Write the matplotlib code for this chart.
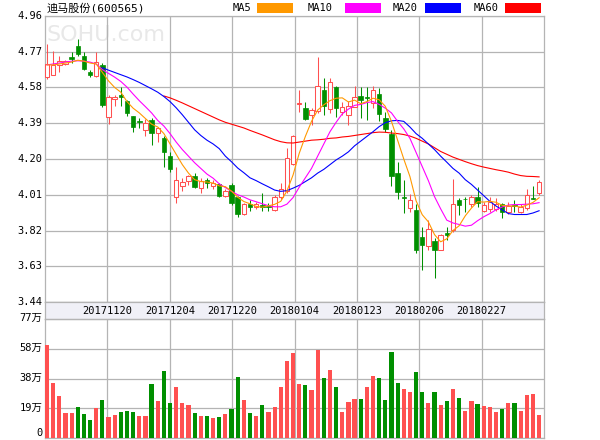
import numpy as np
import matplotlib
matplotlib.use('Agg')
import matplotlib.pyplot as plt
import matplotlib.transforms as mtransforms
from matplotlib.patches import Rectangle

title = '迪马股份(600565)'
date_labels = ['20171120', '20171204', '20171220', '20180104', '20180123', '20180206', '20180227']
price_ticks = [3.44, 3.63, 3.82, 4.01, 4.20, 4.39, 4.58, 4.77, 4.96]
vol_ticks = [0, 19.25, 38.5, 57.75, 77]
vol_tick_labels = ['0', '19万', '38万', '58万', '77万']
ma_names = ['MA5', 'MA10', 'MA20', 'MA60']

# daily candles
opens = [4.635, 4.647, 4.700, 4.703, 4.740, 4.800, 4.749, 4.660, 4.641, 4.700,
         4.425, 4.517, 4.540, 4.508, 4.429, 4.400, 4.354, 4.407, 4.336, 4.310,
         4.216, 4.000, 4.056, 4.084, 4.111, 4.044, 4.088, 4.057, 4.066, 4.005,
         4.063, 3.996, 3.908, 3.960, 3.943, 3.954, 3.948, 3.928, 4.000, 4.031,
         4.172, 4.490, 4.471, 4.432, 4.453, 4.568, 4.467, 4.580, 4.448, 4.436,
         4.476, 4.533, 4.530, 4.497, 4.545, 4.420, 4.332, 4.124, 4.000, 3.941,
         3.931, 3.787, 3.739, 3.766, 3.716, 3.808, 3.822, 3.984, 3.990, 3.963,
         4.000, 3.922, 3.936, 3.936, 3.963, 3.919, 3.955, 3.919, 3.941, 3.995,
         4.019]
highs = [4.810, 4.775, 4.745, 4.725, 4.770, 4.840, 4.770, 4.673, 4.770, 4.709,
         4.540, 4.540, 4.585, 4.513, 4.430, 4.416, 4.410, 4.416, 4.372, 4.320,
         4.239, 4.160, 4.097, 4.115, 4.124, 4.097, 4.097, 4.090, 4.075, 4.040,
         4.075, 4.005, 3.965, 3.982, 3.970, 4.020, 3.965, 4.010, 4.075, 4.256,
         4.330, 4.568, 4.501, 4.471, 4.744, 4.633, 4.633, 4.589, 4.501, 4.510,
         4.589, 4.580, 4.580, 4.590, 4.577, 4.450, 4.353, 4.182, 4.090, 4.015,
         3.963, 3.840, 3.875, 3.778, 3.804, 3.840, 4.095, 3.994, 3.998, 4.007,
         4.050, 3.971, 3.998, 3.994, 3.966, 3.971, 3.984, 3.963, 4.042, 4.054,
         4.086]
lows = [4.625, 4.645, 4.665, 4.700, 4.710, 4.745, 4.673, 4.637, 4.637, 4.478,
        4.386, 4.482, 4.482, 4.429, 4.346, 4.363, 4.322, 4.274, 4.292, 4.160,
        4.132, 3.964, 4.031, 4.062, 4.044, 4.021, 4.044, 4.040, 3.996, 3.996,
        3.957, 3.890, 3.905, 3.926, 3.934, 3.926, 3.924, 3.925, 3.990, 4.020,
        4.168, 4.450, 4.406, 4.383, 4.445, 4.436, 4.445, 4.422, 4.432, 4.383,
        4.474, 4.418, 4.406, 4.470, 4.400, 4.344, 4.059, 3.989, 3.913, 3.919,
        3.702, 3.610, 3.716, 3.567, 3.716, 3.769, 3.813, 3.901, 3.919, 3.945,
        3.945, 3.919, 3.919, 3.922, 3.884, 3.910, 3.919, 3.914, 3.927, 3.989,
        4.007]
closes = [4.705, 4.700, 4.720, 4.720, 4.730, 4.760, 4.680, 4.648, 4.717, 4.487,
          4.531, 4.527, 4.531, 4.443, 4.372, 4.395, 4.393, 4.340, 4.363, 4.239,
          4.145, 4.088, 4.076, 4.111, 4.049, 4.084, 4.070, 4.075, 4.005, 4.031,
          3.964, 3.908, 3.960, 3.947, 3.960, 3.943, 3.945, 3.998, 4.040, 4.207,
          4.321, 4.499, 4.413, 4.459, 4.589, 4.480, 4.608, 4.471, 4.476, 4.480,
          4.531, 4.513, 4.525, 4.568, 4.440, 4.362, 4.112, 4.024, 3.995, 3.984,
          3.716, 3.743, 3.830, 3.716, 3.795, 3.795, 3.963, 3.954, 3.985, 3.998,
          3.966, 3.954, 3.971, 3.959, 3.919, 3.949, 3.950, 3.945, 4.010, 3.990,
          4.077]

# volume in 万 and its colour (r = up, g = down)
volumes = [60.2, 35.9, 27.3, 16.3, 16.3, 20.2, 15.7, 11.8, 19.6, 24.7,
           13.8, 15.1, 17.0, 17.6, 17.0, 14.4, 14.4, 35.1, 24.1, 43.5,
           22.8, 33.1, 22.8, 21.5, 16.3, 14.4, 14.4, 13.1, 13.8, 15.7,
           18.9, 39.6, 24.7, 16.3, 14.4, 21.5, 17.0, 20.2, 33.1, 49.9,
           55.1, 35.1, 34.4, 31.2, 57.0, 38.9, 44.1, 33.1, 17.0, 23.4,
           25.4, 25.4, 33.1, 40.2, 38.9, 24.7, 55.7, 35.7, 31.8, 29.9,
           42.8, 29.9, 22.8, 29.9, 21.5, 24.1, 31.8, 26.0, 17.6, 24.1,
           22.2, 20.9, 20.2, 17.0, 18.9, 22.8, 22.8, 17.6, 28.0, 28.6,
           15.1]
vol_dir = list('rrrrrgggrg' 'rrgggrrgrg' 'grrrgrgrgr' 'ggrgrgrrrr'
               'rrgrrgrgrr' 'rgrrggggrr' 'ggrgrgrgrr' 'grrrgrgrrr' 'r')

ma5 = [4.700, 4.700, 4.705, 4.710, 4.715, 4.725, 4.720, 4.710, 4.705, 4.660,
       4.615, 4.580, 4.555, 4.505, 4.470, 4.445, 4.415, 4.385, 4.370, 4.335,
       4.280, 4.225, 4.170, 4.125, 4.090, 4.080, 4.078, 4.072, 4.057, 4.053,
       4.029, 3.997, 3.974, 3.962, 3.948, 3.944, 3.951, 3.959, 3.975, 4.030,
       4.115, 4.230, 4.320, 4.400, 4.460, 4.488, 4.510, 4.523, 4.525, 4.503,
       4.513, 4.494, 4.505, 4.523, 4.515, 4.480, 4.400, 4.300, 4.200, 4.107,
       3.978, 3.904, 3.866, 3.798, 3.760, 3.776, 3.820, 3.845, 3.898, 3.939,
       3.973, 3.971, 3.975, 3.970, 3.954, 3.950, 3.950, 3.944, 3.955, 3.969,
       3.994]
ma10 = [4.700, 4.705, 4.710, 4.715, 4.720, 4.722, 4.720, 4.715, 4.705, 4.675,
        4.655, 4.635, 4.612, 4.582, 4.545, 4.510, 4.478, 4.445, 4.405, 4.375,
        4.335, 4.290, 4.250, 4.215, 4.180, 4.150, 4.120, 4.098, 4.068, 4.048,
        4.028, 4.010, 3.998, 3.983, 3.973, 3.962, 3.952, 3.946, 3.946, 3.960,
        3.995, 4.050, 4.100, 4.150, 4.215, 4.280, 4.345, 4.395, 4.440, 4.465,
        4.485, 4.490, 4.500, 4.505, 4.490, 4.470, 4.445, 4.400, 4.360, 4.310,
        4.235, 4.160, 4.085, 4.000, 3.935, 3.875, 3.860, 3.852, 3.843, 3.848,
        3.872, 3.893, 3.910, 3.930, 3.945, 3.955, 3.958, 3.958, 3.960, 3.962,
        3.968]
ma20 = [None] * 9 + [
        4.685,
        4.672, 4.660, 4.648, 4.636, 4.622, 4.607, 4.590, 4.573, 4.555, 4.532,
        4.505, 4.472, 4.435, 4.395, 4.355, 4.325, 4.300, 4.280, 4.255, 4.215,
        4.185, 4.152, 4.127, 4.100, 4.085, 4.068, 4.052, 4.035, 4.028, 4.032,
        4.045, 4.060, 4.080, 4.100, 4.125, 4.145, 4.170, 4.195, 4.215, 4.238,
        4.270, 4.295, 4.320, 4.345, 4.372, 4.393, 4.403, 4.405, 4.400, 4.370,
        4.335, 4.310, 4.280, 4.250, 4.215, 4.183, 4.150, 4.125, 4.090, 4.065,
        4.035, 4.005, 3.975, 3.950, 3.930, 3.910, 3.905, 3.905, 3.905, 3.913,
        3.925]
ma60 = [None] * 19 + [
        4.535,
        4.525, 4.512, 4.498, 4.483, 4.468, 4.453, 4.438, 4.423, 4.408, 4.395,
        4.385, 4.375, 4.365, 4.352, 4.340, 4.328, 4.315, 4.302, 4.292, 4.286,
        4.285, 4.290, 4.295, 4.300, 4.302, 4.305, 4.310, 4.312, 4.317, 4.320,
        4.325, 4.330, 4.335, 4.340, 4.343, 4.342, 4.338, 4.335, 4.330, 4.322,
        4.310, 4.295, 4.280, 4.260, 4.240, 4.225, 4.210, 4.198, 4.186, 4.175,
        4.165, 4.157, 4.150, 4.143, 4.137, 4.130, 4.120, 4.112, 4.108, 4.107,
        4.105]

RED = '#ff5050'
GREEN = '#008f00'
GRID = '#b4b4b4'
MA_COLORS = ['#ff9900', '#ff00ff', '#0000ff', '#ff0000']
MONO = ['DejaVu Sans Mono', 'Noto Sans CJK SC']

o = np.array(opens)
h = np.array(highs)
l = np.array(lows)
c = np.array(closes)
x = np.arange(len(c))
xlim = (-0.33, 80.8)
xgrid = np.linspace(xlim[0], xlim[1], 9)[1:-1]

fig = plt.figure(figsize=(6, 4.4), dpi=100)
L, W = 45 / 600, 499 / 600
ax = fig.add_axes([L, 1 - 302 / 440, W, 286 / 440])
band = fig.add_axes([L, 1 - 319 / 440, W, 17 / 440])
axv = fig.add_axes([L, 1 - 438 / 440, W, 119 / 440])

for a in (ax, band, axv):
    a.set_xlim(*xlim)
    a.tick_params(length=0, labelbottom=False, labelleft=False)
    for s in a.spines.values():
        s.set_color(GRID)
        s.set_linewidth(0.9)

# price panel
ax.set_ylim(3.44, 4.96)
ax.set_xticks(xgrid)
ax.set_yticks(price_ticks)
ax.grid(color=GRID, lw=0.9, zorder=0)
ax.set_axisbelow(True)
ax.text(0.004, 0.934, 'SOHU.com', transform=ax.transAxes, fontsize=16,
        color='#e8e8e8', va='center', zorder=0.5)

up = c >= o
body_lo = np.minimum(o, c)
body_h = np.maximum(np.abs(c - o), 0.004)
# wicks
ax.vlines(x[~up], l[~up], h[~up], color=GREEN, lw=0.75, zorder=2)
ax.vlines(x[up], c[up], h[up], color=RED, lw=0.75, zorder=2)
ax.vlines(x[up], l[up], o[up], color=RED, lw=0.75, zorder=2)
# bodies
ax.bar(x[~up], body_h[~up], bottom=body_lo[~up], width=0.72,
       color=GREEN, edgecolor=GREEN, lw=0.5, zorder=3)
ax.bar(x[up], body_h[up], bottom=body_lo[up], width=0.72,
       facecolor='white', edgecolor=RED, lw=0.75, zorder=3)

for ma, col in zip([ma60, ma20, ma10, ma5], MA_COLORS[::-1]):
    ax.plot(x, np.array(ma, dtype=float), color=col, lw=0.8, zorder=4)

tr = mtransforms.blended_transform_factory(ax.transAxes, ax.transData)
for v in price_ticks:
    ax.text(-0.005, v, f'{v:.2f}', transform=tr, ha='right', va='center',
            fontsize=7.5, family=MONO)

# date band
band.set_facecolor('#f0f0f7')
band.set_xticks([])
band.set_yticks([])
for xp, d in zip(xgrid, date_labels):
    band.text(xp, 0.5, d, ha='center', va='center', fontsize=7.5, family=MONO,
              transform=mtransforms.blended_transform_factory(band.transData, band.transAxes))

# volume panel
axv.set_ylim(0, 77)
axv.set_xticks(xgrid)
axv.set_yticks(vol_ticks)
axv.grid(color=GRID, lw=0.9, zorder=0)
axv.set_axisbelow(True)
vcol = [RED if d == 'r' else GREEN for d in vol_dir]
axv.bar(x, volumes, width=0.68, color=vcol, zorder=3)
trv = mtransforms.blended_transform_factory(axv.transAxes, axv.transData)
for v, s in zip(vol_ticks, vol_tick_labels):
    axv.text(-0.005, v + (0.4 if v else 0.3), s, transform=trv, ha='right',
             va='bottom' if v == 0 else 'center', fontsize=7.5, family=MONO)

# title and legend
fig.text(47 / 600, 1 - 8 / 440, title, fontsize=8, family=MONO, va='center')
legend_text_x = [233, 308, 393, 474]
legend_box_x = [257, 345, 425, 505]
for name, col, tx, bx in zip(ma_names, MA_COLORS, legend_text_x, legend_box_x):
    fig.text(tx / 600, 1 - 8 / 440, name, fontsize=7.5, family=MONO, va='center')
    fig.add_artist(Rectangle((bx / 600, 1 - 13 / 440), 36 / 600, 10 / 440,
                             transform=fig.transFigure, facecolor=col,
                             edgecolor='none'))

fig.savefig('out.png', dpi=100)
plt.close(fig)
